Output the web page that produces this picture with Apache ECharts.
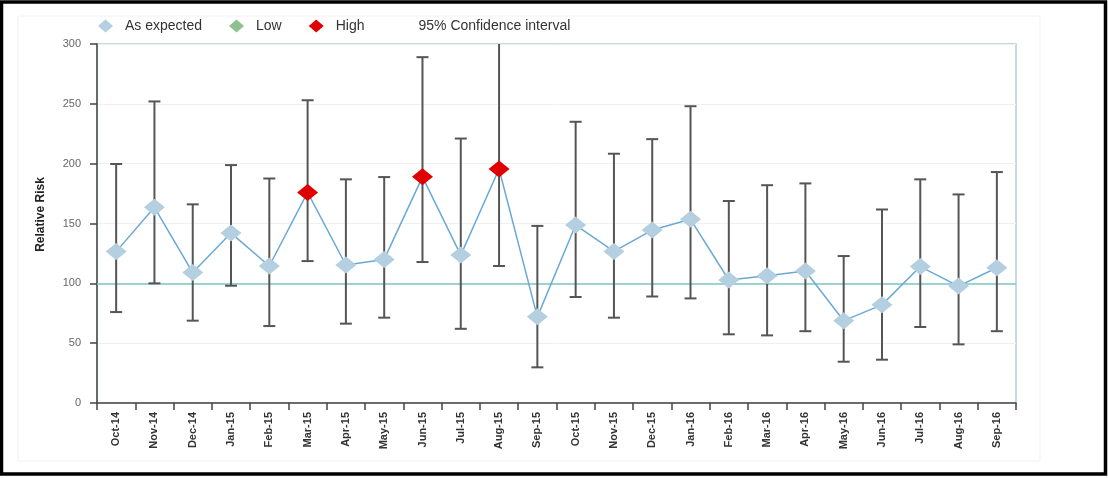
<!DOCTYPE html>
<html>
<head>
<meta charset="utf-8">
<script src="https://cdn.jsdelivr.net/npm/echarts@6/dist/echarts.min.js"></script>
<style>
  html, body { margin: 0; padding: 0; background: #fff; }
  #chart { width: 1108px; height: 478px; }
</style>
</head>
<body>
<div id="chart"></div>
<script>
// Monthly relative risk with 95% confidence intervals
const months = ['Oct-14','Nov-14','Dec-14','Jan-15','Feb-15','Mar-15','Apr-15','May-15','Jun-15','Jul-15','Aug-15','Sep-15',
                'Oct-15','Nov-15','Dec-15','Jan-16','Feb-16','Mar-16','Apr-16','May-16','Jun-16','Jul-16','Aug-16','Sep-16'];
const relativeRisk = [126.5, 163.5, 109, 142, 114.5, 176, 115.3, 120, 189, 123.6, 195.5, 72,
                      148.7, 126.7, 144.5, 153.5, 102.8, 106.4, 110.3, 68.8, 82, 114, 97.7, 113];
const ciLower = [76, 100, 68.8, 98, 64.3, 118.6, 66.3, 71.3, 117.8, 62, 114.5, 29.8,
                 88.6, 71.3, 89, 87.4, 57.4, 56.5, 60, 34.5, 36.2, 63.5, 49, 60];
const ciUpper = [199.7, 252, 166, 198.8, 187.6, 253, 186.9, 188.8, 289, 221, 310, 148,
                 235, 208.3, 220.5, 248, 168.8, 182, 183.5, 122.8, 161.7, 186.9, 174.3, 193];
// 'E' = as expected, 'H' = high, 'L' = low
const status = ['E','E','E','E','E','H','E','E','H','E','H','E',
                'E','E','E','E','E','E','E','E','E','E','E','E'];
const yTicks = [0, 50, 100, 150, 200, 250, 300];
const benchmark = 100;

const COLORS = { E: '#b3cfe0', L: '#8fc18f', H: '#e00000' };
const narrow = "'Liberation Sans Narrow', 'Liberation Sans', Arial, sans-serif";
const sans = "'Liberation Sans', Arial, sans-serif";

const chart = echarts.init(document.getElementById('chart'), null, { renderer: 'canvas' });

const pointData = relativeRisk.map((v, i) => ({
  value: v,
  itemStyle: { color: COLORS[status[i]] }
}));
const ciData = months.map((m, i) => [i, ciLower[i], ciUpper[i]]);

const legendText = { fontFamily: sans, fontSize: 14, color: '#333', padding: [0, 0, 0, 7] };

chart.setOption({
  animation: false,
  backgroundColor: '#fff',
  graphic: [
    { type: 'rect', z: -10, shape: { x: 18, y: 16, width: 1022, height: 445 },
      style: { fill: 'none', stroke: '#f1f1f1', lineWidth: 1 } },
    { type: 'rect', z: 100, shape: { x: 1.5, y: 2, width: 1104, height: 472 },
      style: { fill: 'none', stroke: '#000', lineWidth: 3.5 } }
  ],
  legend: {
    left: 93, top: 14,
    itemWidth: 15, itemHeight: 13,
    itemGap: 27,
    textStyle: legendText,
    data: [
      { name: 'As expected', icon: 'diamond', itemStyle: { color: COLORS.E } },
      { name: 'Low', icon: 'diamond', itemStyle: { color: COLORS.L } },
      { name: 'High', icon: 'diamond', itemStyle: { color: COLORS.H } },
      { name: '95% Confidence interval', icon: 'none', textStyle: { padding: [0, 0, 0, 7] } }
    ]
  },
  grid: {
    left: 97, right: 92, top: 44, bottom: 75,
    show: true, borderColor: '#b7cddb', borderWidth: 1.5
  },
  xAxis: {
    type: 'category',
    data: months,
    boundaryGap: true,
    axisLine: { lineStyle: { color: '#444', width: 1.5 } },
    axisTick: { show: true, length: 7, lineStyle: { color: '#444', width: 1.5 } },
    axisLabel: {
      rotate: 90, margin: 9, interval: 0,
      fontFamily: narrow, fontSize: 11, fontWeight: 'bold', color: '#333'
    },
    splitLine: { show: false }
  },
  yAxis: {
    type: 'value',
    min: yTicks[0], max: yTicks[yTicks.length - 1], interval: 50,
    name: 'Relative Risk',
    nameLocation: 'middle',
    nameGap: 50,
    nameRotate: 90,
    nameTextStyle: { fontFamily: narrow, fontSize: 12, fontWeight: 'bold', color: '#222', padding: [0, 0, 0, 18] },
    axisLine: { show: true, lineStyle: { color: '#444', width: 1.5 } },
    axisTick: { show: true, length: 7, lineStyle: { color: '#444', width: 1.5 } },
    axisLabel: { margin: 16, fontFamily: sans, fontSize: 11, color: '#666' },
    splitLine: { show: true, lineStyle: { color: '#f0f0f0', width: 1 } }
  },
  series: [
    {
      name: '95% Confidence interval',
      type: 'custom',
      clip: true,
      z: 2,
      data: ciData,
      renderItem: function (params, api) {
        const x = api.coord([api.value(0), 0])[0];
        const lo = api.coord([api.value(0), api.value(1)])[1];
        const hi = api.coord([api.value(0), api.value(2)])[1];
        const cap = 6;
        const style = { stroke: '#555', lineWidth: 2 };
        return {
          type: 'group',
          children: [
            { type: 'line', shape: { x1: x, y1: lo, x2: x, y2: hi }, style: style },
            { type: 'line', shape: { x1: x - cap, y1: lo, x2: x + cap, y2: lo }, style: style },
            { type: 'line', shape: { x1: x - cap, y1: hi, x2: x + cap, y2: hi }, style: style }
          ]
        };
      }
    },
    {
      name: 'As expected',
      type: 'line',
      z: 3,
      data: pointData,
      symbol: 'diamond',
      symbolSize: [21, 17],
      showAllSymbol: true,
      lineStyle: { color: '#6aa8d6', width: 1.5 },
      itemStyle: { color: COLORS.E },
      markLine: {
        silent: true,
        symbol: 'none',
        label: { show: false },
        lineStyle: { color: '#7cc6c6', type: 'solid', width: 1.5 },
        data: [{ yAxis: benchmark }],
        z: 1
      }
    },
    { name: 'Low', type: 'line', data: [], itemStyle: { color: COLORS.L } },
    { name: 'High', type: 'line', data: [], itemStyle: { color: COLORS.H } }
  ]
});
</script>
</body>
</html>
